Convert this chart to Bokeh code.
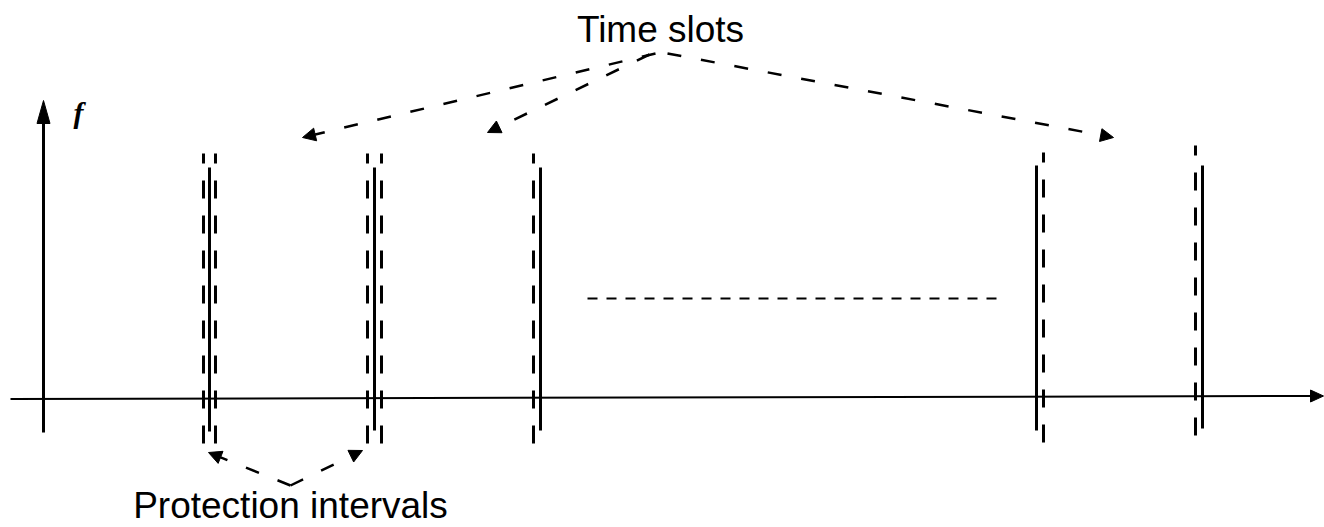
from bokeh.plotting import figure
from bokeh.models import Range1d, Arrow, NormalHead, ColumnDataSource
from bokeh.core.properties import value
from bokeh.embed import file_html
from bokeh.resources import INLINE

# ---- diagram data (picture pixel coordinates) ----
# frequency axis (vertical) and time axis (horizontal)
f_axis_x = [43, 43]
f_axis_y = [432, 116]
f_head_x = [43, 36.5, 49.5]
f_head_y = [100, 123, 123]
t_axis_x = [10, 1312]
t_axis_y = [398.5, 395.5]
t_head_x = [1323, 1310, 1310]
t_head_y = [395.5, 389.5, 401.5]

# time slot boundaries: solid lines
solid_x = [209, 374, 540, 1036, 1202]
solid_top = [167, 167, 167, 165, 165]
solid_bot = [431, 430, 430, 430, 428]

# protection interval boundaries: dashed lines
guard_x = [203, 215, 367, 381, 533, 1043, 1195]
guard_top = [153, 153, 153, 153, 153, 152, 145]
guard_bot = [445, 445, 445, 445, 443, 442, 435]

# ellipsis line between slot 3 and slot 4
gap_x = [587, 1003]
gap_y = [298, 298]

# callout arrows
ts_x0 = [655, 649, 667]
ts_y0 = [53, 54, 53]
ts_x1 = [302, 487, 1113]
ts_y1 = [137, 132, 137]
pi_x0 = [290, 290]
pi_y0 = [485, 485]
pi_x1 = [208, 362]
pi_y1 = [452, 450]

labels = ["Time slots", "Protection intervals"]
label_x = [660, 290]
label_y = [29, 505]

W, H = 1324, 527
p = figure(width=W, height=H, x_range=Range1d(0, W), y_range=Range1d(H, 0),
           output_backend="svg", toolbar_location=None, min_border=0,
           x_axis_location=None, y_axis_location=None)
p.grid.visible = False
p.outline_line_color = None
p.background_fill_color = "white"

# axes
p.line(f_axis_x, f_axis_y, line_width=3, color="black")
p.patch(f_head_x, f_head_y, color="black")
p.line(t_axis_x, t_axis_y, line_width=2, color="black")
p.patch(t_head_x, t_head_y, color="black")

# slot lines
p.segment(x0=solid_x, y0=solid_top, x1=solid_x, y1=solid_bot, line_width=3, color="black")
p.segment(x0=guard_x, y0=guard_top, x1=guard_x, y1=guard_bot, line_width=3, color="black",
          line_dash="18 17", line_dash_offset=8)

# ellipsis
p.line(gap_x, gap_y, line_width=2, color="black", line_dash="10 9")

# callout arrows
for xs, ys, xe, ye in [(ts_x0, ts_y0, ts_x1, ts_y1), (pi_x0, pi_y0, pi_x1, pi_y1)]:
    src = ColumnDataSource(dict(x0=xs, y0=ys, x1=xe, y1=ye))
    p.add_layout(Arrow(end=NormalHead(size=13, fill_color="black", line_color="black", line_width=1),
                       x_start="x0", y_start="y0", x_end="x1", y_end="y1", source=src,
                       line_width=2.5, line_color="black", line_dash="14 20"))

# labels
p.text(x=label_x, y=label_y, text=labels, text_font=value("Liberation Sans"),
       text_font_size="37px", text_align="center", text_baseline="alphabetic", text_color="black")
p.text(x=[78], y=[112], text=["f"], text_font=value("Liberation Serif"), text_font_style="bold italic",
       text_font_size="30px", text_align="center", text_baseline="middle", text_color="black")

open("out.html", "w").write(file_html(p, INLINE))
